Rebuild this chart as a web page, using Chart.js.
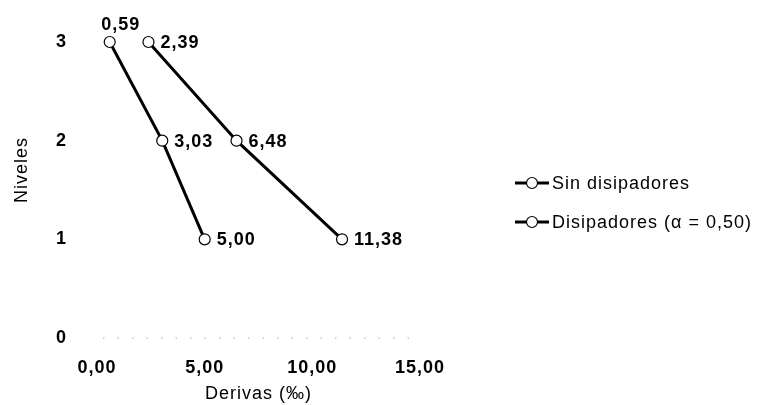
<!DOCTYPE html>
<html>
<head>
<meta charset="utf-8">
<script src="https://cdn.jsdelivr.net/npm/chart.js@4.4.1/dist/chart.umd.min.js"></script>
<style>
  html, body { margin: 0; padding: 0; background: #fff; }
  #wrap { width: 759px; height: 405px; }
</style>
</head>
<body>
<div id="wrap"><canvas id="derivasChart" width="759" height="405"></canvas></div>
<script>
// Derivas de entrepiso por nivel (‰)
const niveles       = [3, 2, 1];
const derivasSinDis = [2.39, 6.48, 11.38];
const derivasConDis = [0.59, 3.03, 5.00];
const seriesNames   = ['Sin disipadores', 'Disipadores (α = 0,50)'];
const xTickValues   = [0, 5, 10, 15];
const yTickValues   = [0, 1, 2, 3];

const FONT = "'Liberation Sans', Arial, sans-serif";
const fmt  = v => v.toFixed(2).replace('.', ',');

/* ── slightly wider text, dotted base line, y title ─────────────── */
const decorations = {
    id: 'decorations',
    beforeDraw(chart) {
        chart.ctx.letterSpacing = '1px';
    },
    beforeDatasetsDraw(chart) {
        const { ctx, scales: { x, y } } = chart;
        const y0 = y.getPixelForValue(0);
        ctx.save();
        ctx.strokeStyle = '#aaa';
        ctx.lineWidth = 1;
        ctx.setLineDash([1.5, 13]);
        ctx.beginPath();
        ctx.moveTo(x.getPixelForValue(0) + 6, y0);
        ctx.lineTo(x.getPixelForValue(15), y0);
        ctx.stroke();
        ctx.restore();
    },
    afterDraw(chart) {
        const ctx = chart.ctx;
        ctx.save();
        ctx.translate(22, 170);
        ctx.rotate(-Math.PI / 2);
        ctx.font = `18px ${FONT}`;
        ctx.fillStyle = '#000';
        ctx.textAlign = 'center';
        ctx.textBaseline = 'middle';
        ctx.fillText('Niveles', 0, 0);
        ctx.restore();
    }
};

/* ── value labels beside each point ─────────────────────────────── */
const valueLabels = {
    id: 'valueLabels',
    afterDatasetsDraw(chart) {
        const ctx = chart.ctx;
        ctx.save();
        ctx.font = `bold 18px ${FONT}`;
        ctx.fillStyle = '#000';
        chart.data.datasets.forEach((ds, i) => {
            const meta = chart.getDatasetMeta(i);
            meta.data.forEach((pt, j) => {
                const side = (ds.labelSide || [])[j] || 'right';
                const txt  = fmt(ds.data[j].x);
                if (side === 'top') {
                    ctx.textAlign = 'center';
                    ctx.textBaseline = 'bottom';
                    ctx.fillText(txt, pt.x + 11, pt.y - 8);
                } else {
                    ctx.textAlign = 'left';
                    ctx.textBaseline = 'middle';
                    ctx.fillText(txt, pt.x + 12, pt.y + 1);
                }
            });
        });
        ctx.restore();
    }
};

/* ── legend on the right: line + open circle + text ─────────────── */
const sideLegend = {
    id: 'sideLegend',
    afterDraw(chart) {
        const ctx = chart.ctx;
        ctx.save();
        ctx.font = `18px ${FONT}`;
        ctx.textAlign = 'left';
        ctx.textBaseline = 'middle';
        chart.data.datasets.forEach((ds, i) => {
            const y  = 183 + i * 39;
            const x0 = 515;
            ctx.strokeStyle = '#000';
            ctx.lineWidth = 2.8;
            ctx.beginPath();
            ctx.moveTo(x0, y);
            ctx.lineTo(x0 + 34, y);
            ctx.stroke();
            ctx.beginPath();
            ctx.arc(x0 + 17, y, 5.5, 0, Math.PI * 2);
            ctx.fillStyle = '#fff';
            ctx.fill();
            ctx.lineWidth = 1.2;
            ctx.stroke();
            ctx.fillStyle = '#000';
            ctx.fillText(ds.label, x0 + 37, y + 1);
        });
        ctx.restore();
    }
};

const seriesStyle = {
    showLine: true,
    borderColor: '#000',
    borderWidth: 3,
    pointRadius: 5.5,
    pointHoverRadius: 5.5,
    pointBackgroundColor: '#fff',
    pointBorderColor: '#000',
    pointBorderWidth: 1.2,
    clip: false
};

const toPoints = xs => niveles.map((n, i) => ({ x: xs[i], y: n }));

new Chart(document.getElementById('derivasChart'), {
    type: 'scatter',
    data: {
        datasets: [
            { ...seriesStyle, label: seriesNames[0], data: toPoints(derivasSinDis), labelSide: ['right', 'right', 'right'] },
            { ...seriesStyle, label: seriesNames[1], data: toPoints(derivasConDis), labelSide: ['top', 'right', 'right'] }
        ]
    },
    options: {
        responsive: false,
        animation: false,
        layout: { padding: { left: 0, right: 339, top: 42, bottom: 0 } },
        plugins: {
            legend: { display: false },
            tooltip: { enabled: false }
        },
        scales: {
            x: {
                type: 'linear',
                min: 0,
                max: 15,
                afterBuildTicks: s => { s.ticks = xTickValues.map(v => ({ value: v })); },
                afterFit: s => { s.height = 67; },
                ticks: {
                    callback: v => fmt(v),
                    color: '#000',
                    padding: 11,
                    maxRotation: 0,
                    font: { family: FONT, size: 18, weight: 'bold' }
                },
                grid: { display: false },
                border: { display: false },
                title: {
                    display: true,
                    text: 'Derivas (‰)',
                    color: '#000',
                    padding: { top: 0, bottom: 0 },
                    font: { family: FONT, size: 18 }
                }
            },
            y: {
                type: 'linear',
                min: 0,
                max: 3,
                afterBuildTicks: s => { s.ticks = yTickValues.map(v => ({ value: v })); },
                afterFit: s => { s.width = 97; },
                ticks: {
                    color: '#000',
                    padding: 22,
                    font: { family: FONT, size: 18, weight: 'bold' }
                },
                grid: { display: false },
                border: { display: false }
            }
        }
    },
    plugins: [decorations, valueLabels, sideLegend]
});
</script>
</body>
</html>
